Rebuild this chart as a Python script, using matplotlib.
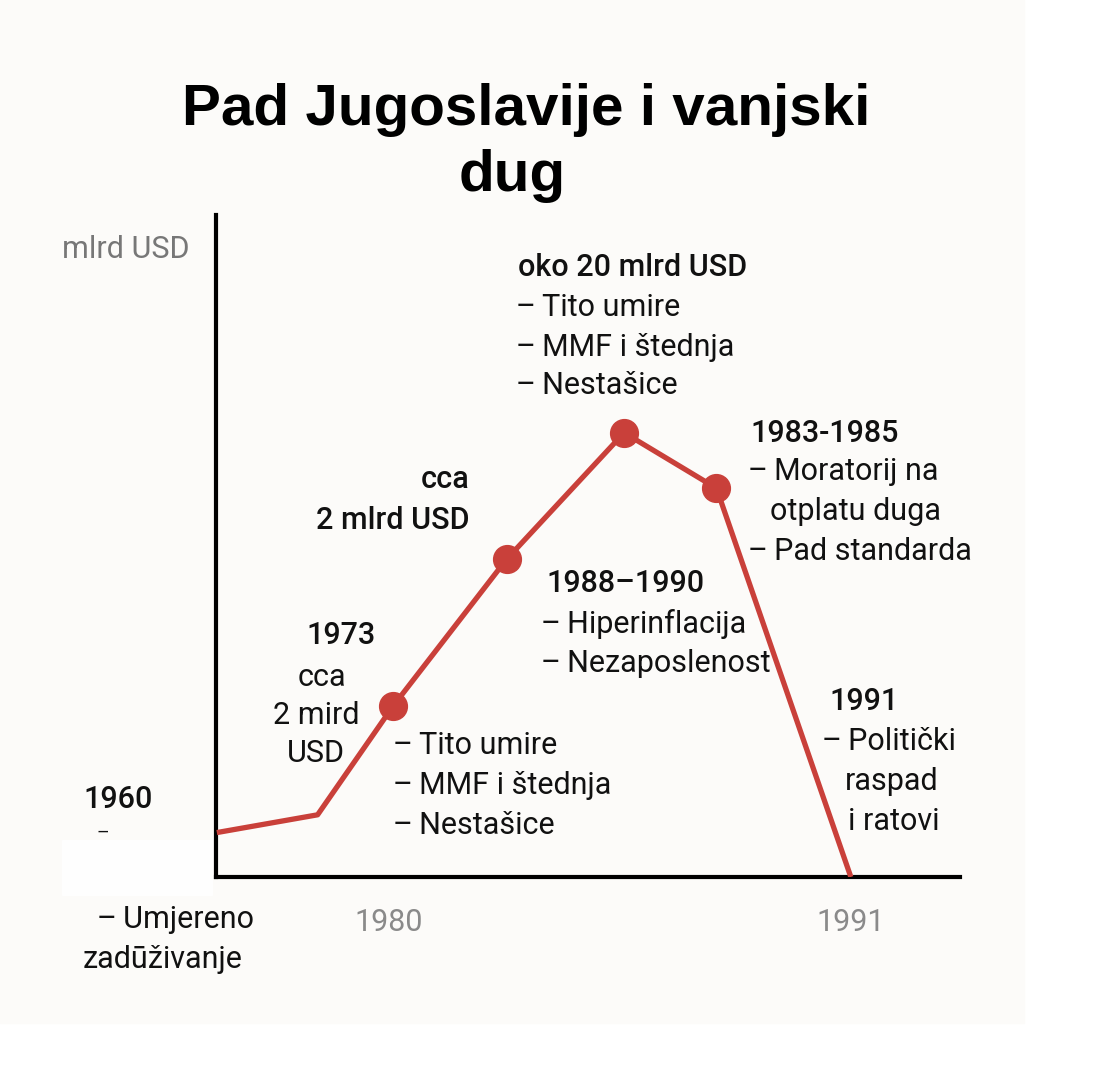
import matplotlib.pyplot as plt
from matplotlib.patches import Rectangle

# podaci (procjena s grafikona)
godine = [1975.9, 1978.3, 1980.1, 1982.8, 1985.6, 1987.8, 1991.0]
dug = [2.0, 2.8, 7.7, 14.3, 20.0, 17.5, 0.0]
s_markerom = [False, False, True, True, True, True, False]
tick_godine = [1980, 1991]
tick_labele = ['1980', '1991']

W, H = 1112, 1070
BG = '#fcfbf9'
RED = '#c9403a'
D = '–\u2009'

fig = plt.figure(figsize=(W / 100, H / 100), dpi=100, facecolor='white')
# pozadina (slika je malo uža od platna)
fig.patches.append(Rectangle((0, 1 - 1023 / H), 1024 / W, 1023 / H,
                             transform=fig.transFigure, color=BG, zorder=-10))
fig.patches.append(Rectangle((62 / W, 1 - 895 / H), 150 / W, 55 / H,
                             transform=fig.transFigure, color='#fefefe', zorder=-9))

ax = fig.add_axes([216 / W, 1 - 877 / H, (960 - 216) / W, (877 - 215) / H])
ax.patch.set_visible(False)

ax.plot(godine, dug, color=RED, lw=3.8, solid_capstyle='butt', zorder=3)
mx = [g for g, m in zip(godine, s_markerom) if m]
my = [d for d, m in zip(dug, s_markerom) if m]
ax.plot(mx, my, 'o', color=RED, markersize=20, zorder=4)

ax.set_xlim(1975.88, 1993.6)
ax.set_ylim(0, 29.8)
for s in ['top', 'right']:
    ax.spines[s].set_visible(False)
for s in ['left', 'bottom']:
    ax.spines[s].set_linewidth(3)
    ax.spines[s].set_color('black')
ax.set_xticks(tick_godine)
ax.set_xticklabels(tick_labele, fontsize=22, color='#8a8a8a', family='Roboto')
ax.tick_params(axis='x', length=0, pad=22)
ax.set_yticks([])


def txt(x, y, s, bold=False, ha='left', color='#111111', size=22):
    fig.text(x / W, 1 - y / H, s, ha=ha, va='center', fontsize=size, color=color,
             family='Roboto', fontweight='medium' if bold else 'normal')


# naslov
fig.text(526 / W, 1 - 110 / H, 'Pad Jugoslavije i vanjski', ha='center', va='center',
         fontsize=42, fontweight='bold', family='Liberation Sans')
fig.text(512 / W, 1 - 176 / H, 'dug', ha='center', va='center',
         fontsize=42, fontweight='bold', family='Liberation Sans')

txt(62, 250, 'mlrd USD', color='#777777')

txt(518, 268, 'oko 20 mlrd USD', bold=True)
txt(516, 307, D + 'Tito umire')
txt(516, 347, D + 'MMF i štednja')
txt(516, 386, D + 'Nestašice')

txt(750, 433, '1983-1985', bold=True)
txt(748, 472, D + 'Moratorij na')
txt(770, 512, 'otplatu duga')
txt(748, 551, D + 'Pad standarda')

txt(470, 480, 'cca', bold=True, ha='right')
txt(470, 520, '2 mlrd USD', bold=True, ha='right')

txt(546, 583, '1988–1990', bold=True)
txt(541, 624, D + 'Hiperinflacija')
txt(541, 664, D + 'Nezaposlenost')

txt(341, 635, '1973', bold=True, ha='center')
txt(322, 677, 'cca', ha='center')
txt(316, 716, '2 mird', ha='center')
txt(316, 754, 'USD', ha='center')

txt(393, 745, D + 'Tito umire')
txt(393, 785, D + 'MMF i štednja')
txt(393, 825, D + 'Nestašice')

txt(829, 702, '1991', bold=True)
txt(822, 742, D + 'Politički')
txt(845, 782, 'raspad')
txt(848, 821, 'i ratovi')

txt(83, 800, '1960', bold=True)
txt(97, 833, '–', size=14)
txt(97, 920, D + 'Umjereno')
txt(83, 960, 'zadūživanje')

fig.savefig('out.png', dpi=100, facecolor='white')
